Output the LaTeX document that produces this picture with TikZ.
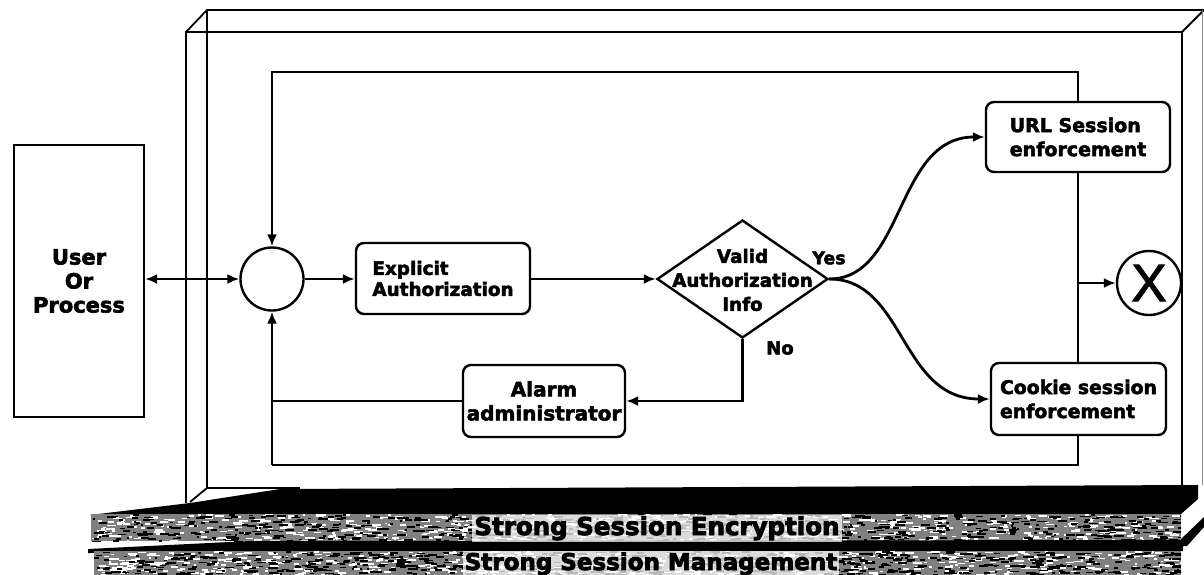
\documentclass[tikz,border=0pt]{standalone}
\usepackage{fontspec}
\setmainfont{DejaVu Sans}[BoldFeatures={FakeBold=2.6}]
\newfontfamily\heavy{DejaVu Sans Bold}[FakeBold=3.5]
\newfontfamily\xfont{Liberation Sans}[FakeBold=1.8]
\usetikzlibrary{arrows.meta,shapes.geometric}

% bold text at a given size, 24pt leading
\newcommand\fsz[1]{\fontsize{#1}{24}\selectfont\bfseries}
% grainy black-and-white fill of a rectangle
\newcommand\grain[4]{%
  \begin{scope}
    \clip (#1,#2) rectangle (#3,#4);
    \fill[black!50] (#1,#2) rectangle (#3,#4);
    \foreach \i in {1,...,700}{%
      \pgfmathsetmacro\px{#1+(#3-#1)*rnd}%
      \pgfmathsetmacro\py{#2+(#4-#2)*rnd}%
      \pgfmathsetmacro\pw{2+8*rnd}%
      \fill[white] (\px,\py) rectangle ++(\pw,1.7);
    }
    \foreach \i in {1,...,700}{%
      \pgfmathsetmacro\px{#1+(#3-#1)*rnd}%
      \pgfmathsetmacro\py{#2+(#4-#2)*rnd}%
      \pgfmathsetmacro\pw{2+8*rnd}%
      \fill[black] (\px,\py) rectangle ++(\pw,1.7);
    }
  \end{scope}}

\tikzset{
  box/.style={draw, line width=2.4pt, rounded corners=8pt, fill=white, inner ysep=0pt},
  flow/.style={line width=2.8pt, -{Latex[length=12pt,width=10pt]}},
  wire/.style={line width=2.8pt},
  frameline/.style={line width=1.8pt},
  slabtext/.style={anchor=base, fill=white, fill opacity=0.72, text opacity=1,
                   inner xsep=2pt, inner ysep=1.5pt},
}

\begin{document}
\begin{tikzpicture}[x=1pt,y=-1pt]
\useasboundingbox (0,0) rectangle (1204,575);
\pgfmathsetseed{11}

% ---- perspective frame ----
\draw[frameline] (186,503) -- (186,32) -- (1182,32) -- (1182,485);
\draw[frameline] (186,32) -- (207,10) -- (1204,10);
\draw[frameline] (1182,32) -- (1204,10);
\draw[frameline] (207,10) -- (207,488) -- (300,488);
\draw[frameline] (207,488) -- (190,502);
\draw[line width=0.8pt, black!45] (1202,10) -- (1202,485);

% ---- stacked slabs ----
\fill (90,515) -- (190,503) -- (280,489) -- (1198,485) -- (1198,499) -- (1181,514) -- cycle;
\grain{91}{514}{1181}{541}
\fill (88,549) -- (250,541) -- (1183,540) -- (1183,551) -- (88,553) -- cycle;
\fill (1204,517) -- (1204,527) -- (1187,546) -- (1181,546) -- (1181,539) -- cycle;
\grain{94}{551}{1181}{575}
\node[slabtext, font=\heavy\fontsize{24.5}{24}\selectfont] (enc) at (657,535) {Strong Session Encryption};
\node[slabtext, font=\heavy\fontsize{23}{24}\selectfont] (mgmt) at (651,570) {Strong Session Management};

% ---- feedback loop round the hub ----
\coordinate (tl) at (272,72);
\coordinate (tr) at (1078,72);
\coordinate (br) at (1078,465);
\coordinate (bl) at (272,465);
\coordinate (xo) at (1078,283);
\node[circle, draw, line width=2.4pt, fill=white, minimum size=63pt, inner sep=0] (hub) at (272,279) {};
\draw[flow] (bl) -- (br) -- (tr) -- (tl) -- (hub.north);
\draw[flow] (bl) -- (hub.south);

% ---- nodes ----
\node[draw, line width=2.4pt, fill=white, minimum width=130pt, minimum height=272pt,
      align=center, font=\fsz{21}] (user) at (79,281) {User\\Or\\Process};
\node[box, minimum width=174pt, minimum height=71pt, align=left,
      font=\fontsize{18.4}{21}\selectfont\bfseries] (expl) at (443,278.5) {Explicit\\Authorization};
\node[diamond, draw, line width=2.4pt, fill=white, minimum width=171pt, minimum height=118pt,
      inner sep=0] (dec) at (742.5,279) {};
\node[align=center, font=\fsz{18.3}, inner sep=0] (dectxt) at (742.5,280) {Valid\\Authorization\\Info};
\node[box, minimum width=184pt, minimum height=70pt, align=left, font=\fsz{19}] (url) at (1078,137) {URL Session\\enforcement};
\node[box, minimum width=175pt, minimum height=72pt, align=left, font=\fsz{18.8}] (cookie) at (1078.5,399) {Cookie session\\enforcement};
\node[box, minimum width=162pt, minimum height=72pt, align=center, font=\fsz{20}] (alarm) at (544,401) {Alarm\\administrator};
\node[circle, draw, line width=2.4pt, fill=white, minimum size=64pt, inner sep=0] (xc) at (1149,283)
      {\xfont\fontsize{53}{53}\selectfont X};
\node[font=\fsz{17.5}, inner sep=0] (yes) at (829,258) {Yes};
\node[font=\fsz{18}, inner sep=0] (no) at (780,348) {No};

% ---- connectors ----
\draw[line width=2.8pt, {Latex[length=12pt,width=10pt]}-{Latex[length=12pt,width=10pt]}]
  (user.east |- hub.west) -- (hub.west);
\draw[flow] (hub) -- (hub -| expl.west);
\draw[flow] (expl.east |- dec.west) -- (dec.west);
\draw[flow] (dec.south) |- (alarm.east);
\draw[wire] (alarm.west) -- (alarm.west -| hub);
\draw[flow] (dec.east) .. controls (905,279) and (895,137) .. (url.west);
\draw[flow] (dec.east) .. controls (905,279) and (900,399) .. (cookie.west);
\draw[flow] (xo) -- (xc.west);
\end{tikzpicture}
\end{document}
